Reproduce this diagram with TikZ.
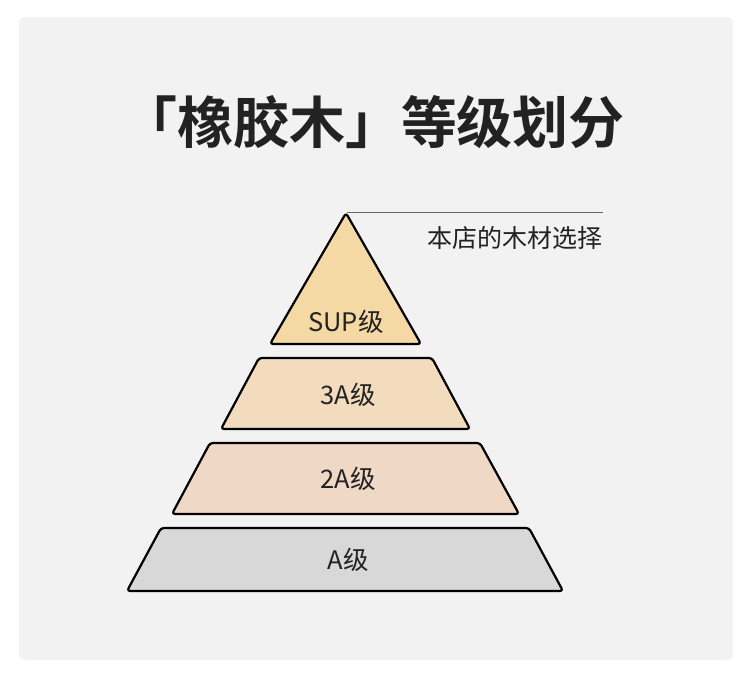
\documentclass[tikz,border=0pt]{standalone}
\usepackage{fontspec}
\newfontfamily\cjk{Noto Sans CJK SC}
\newfontfamily\cjkbold{Noto Sans CJK SC Bold}
\definecolor{bg}{HTML}{F2F2F2}
\definecolor{supc}{HTML}{F5D9A5}
\definecolor{threec}{HTML}{F3DBBE}
\definecolor{twoc}{HTML}{F0D8C6}
\definecolor{onec}{HTML}{D8D8D8}
\definecolor{ink}{HTML}{222222}
\begin{document}
\begin{tikzpicture}[x=1pt,y=-1pt,
  tier/.style={draw=black,line width=2.2pt,rounded corners=3pt,line join=round},
  tierlabel/.style={font=\cjk\fontsize{25.5}{25.5}\selectfont,text=ink,inner sep=0pt},
  leader/.style={draw=black!60,line width=1pt}]
\useasboundingbox (0,0) rectangle (750,684);
\fill[bg,rounded corners=6pt] (19,17) rectangle (733,660);
\node[font=\cjkbold\fontsize{56}{56}\selectfont,text=ink,inner sep=0pt] (title) at (373,122) {「橡胶木」等级划分};
% tiers
\path[tier,fill=supc] (346,213) -- (421,344) -- (270,344) -- cycle;
\path[tier,fill=threec] (259,358) -- (432,358) -- (470,429) -- (221,429) -- cycle;
\path[tier,fill=twoc] (210,443) -- (480,443) -- (519,514) -- (172,514) -- cycle;
\path[tier,fill=onec] (161,528) -- (529,528) -- (563,591) -- (127,591) -- cycle;
\node[tierlabel] (sup) at (346,322) {SUP级};
\node[tierlabel] (three) at (348,395) {3A级};
\node[tierlabel] (two) at (348,479) {2A级};
\node[tierlabel] (one) at (348,560) {A级};
% leader line and note
\coordinate (apex) at (347,213);
\coordinate (lend) at (603,213);
\draw[leader] (apex) -- (lend);
\node[font=\cjk\fontsize{25}{25}\selectfont,text=ink,inner sep=0pt,anchor=east] (note) at (603,238) {本店的木材选择};
\end{tikzpicture}
\end{document}
